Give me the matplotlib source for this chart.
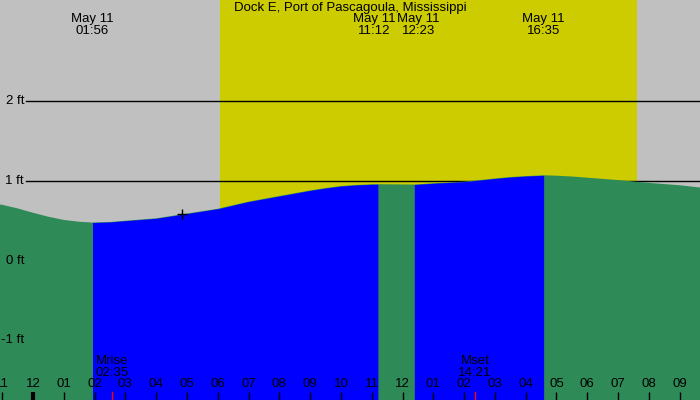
import matplotlib
matplotlib.use("Agg")
import matplotlib.pyplot as plt
import matplotlib.transforms as mtransforms
import numpy as np

# --- Tide data (hours since midnight May 11, feet) ---
station = "Dock E, Port of Pascagoula, Mississippi"
hours = [-1.1, -1, -0.5, 0, 0.5, 1, 1.5, 2, 2.5, 3, 3.5, 4, 5, 6, 7, 8, 9, 9.5, 10, 10.5, 11,
         12, 13, 14, 15, 15.5, 16, 17, 17.5, 18, 19, 20, 21, 21.7]
heights = [0.705, 0.70, 0.655, 0.60, 0.55, 0.51, 0.487, 0.478, 0.484, 0.50, 0.515, 0.53, 0.59,
           0.65, 0.74, 0.81, 0.88, 0.91, 0.935, 0.949, 0.957,
           0.955, 0.97, 0.99, 1.03, 1.048, 1.06, 1.065, 1.055, 1.04, 1.01, 0.975, 0.945, 0.915]

# high / low events
event_hours = [1.933, 11.2, 12.383, 16.583]
event_heights = [0.477, 0.958, 0.954, 1.07]
event_dates = ["May 11", "May 11", "May 11", "May 11"]
event_times = ["01:56", "11:12", "12:23", "16:35"]

# rising tide intervals (low -> high)
rising = [(1.933, 11.2), (12.383, 16.583)]

sunrise = 6.07
sunset = 19.61
moon_hours = [2.583, 14.35]
moon_labels = ["Mrise", "Mset"]
moon_times = ["02:35", "14:21"]

now_hour = 4.84
now_height = 0.58

y_levels = [2, 1, 0, -1]
y_labels = ["2 ft", "1 ft", "0 ft", "-1 ft"]

tick_hours = list(range(-1, 22))
tick_labels = ["%02d" % (((h - 1) % 12) + 1) for h in tick_hours]

# --- merge event points into the curve ---
t = np.array(hours + event_hours)
z = np.array(heights + event_heights)
order = np.argsort(t)
t, z = t[order], z[order]

GRAY = "#C0C0C0"
YELLOW = "#CCCC00"
GREEN = "#2E8B57"
BLUE = "#0000FF"

plt.rcParams['font.family'] = ['Liberation Sans', 'DejaVu Sans']
fig = plt.figure(figsize=(7, 4), dpi=100, facecolor=GRAY)
ax = fig.add_axes([0, 0, 1, 1])
XMIN, XMAX = -1.07, 21.66
YMIN, YMAX = -1.75, 3.27
ax.set_xlim(XMIN, XMAX)
ax.set_ylim(YMIN, YMAX)
ax.axis('off')

# night background + daylight
ax.axvspan(XMIN, XMAX, color=GRAY, lw=0, zorder=0)
ax.axvspan(sunrise, sunset, color=YELLOW, lw=0, zorder=1)

# grid lines (under the water)
for lv in y_levels:
    ax.axhline(lv, xmin=26 / 700, xmax=1, color='black', lw=1, zorder=2)

# water
ax.fill_between(t, YMIN, z, color=GREEN, lw=0, zorder=3)
for a, b in rising:
    m = (t >= a) & (t <= b)
    ax.fill_between(t[m], YMIN, z[m], color=BLUE, lw=0, zorder=4)

trans = mtransforms.blended_transform_factory(ax.transData, ax.transAxes)
fs = 9.5

for lv, lab in zip(y_levels, y_labels):
    ax.text(24 / 700, lv, lab, transform=mtransforms.blended_transform_factory(ax.transAxes, ax.transData),
            ha='right', va='center', fontsize=fs, zorder=6)

# hour ticks
px = 1 / 400
for h, lab in zip(tick_hours, tick_labels):
    lw = 3 if h == 0 else 1
    ax.plot([h, h], [0, 8 * px], color='black', lw=lw, transform=trans, zorder=6, solid_capstyle='butt')
    ax.text(h, 1 - 384 * px, lab, transform=trans, ha='center', va='center', fontsize=fs, zorder=6)

# moon rise / set
for h, lab, tm in zip(moon_hours, moon_labels, moon_times):
    ax.plot([h, h], [0, 8 * px], color='red', lw=1, transform=trans, zorder=6)
    ax.text(h, 1 - 361 * px, lab, transform=trans, ha='center', va='center', fontsize=fs, zorder=6)
    ax.text(h, 1 - 373 * px, tm, transform=trans, ha='center', va='center', fontsize=fs, zorder=6)

# event labels, pushed apart if too close
px_per_hour = 700 / (XMAX - XMIN)
centers = [(h - XMIN) * px_per_hour for h in event_hours]
min_gap = 44
for i in range(1, len(centers)):
    gap = centers[i] - centers[i - 1]
    if gap < min_gap:
        shift = (min_gap - gap) / 2
        centers[i - 1] -= shift
        centers[i] += shift
for cx, d, tm in zip(centers, event_dates, event_times):
    ax.text(cx / 700, 1 - 19 * px, d, transform=ax.transAxes, ha='center', va='center', fontsize=fs, zorder=6)
    ax.text(cx / 700, 1 - 31 * px, tm, transform=ax.transAxes, ha='center', va='center', fontsize=fs, zorder=6)

ax.text(0.5, 1 - 7.5 * px, station, transform=ax.transAxes, ha='center', va='center', fontsize=fs, zorder=6)

# current time marker
ax.plot([now_hour], [now_height], marker='+', color='black', markersize=7, mew=1, zorder=7)

fig.savefig("out.png", dpi=100, facecolor=GRAY)
